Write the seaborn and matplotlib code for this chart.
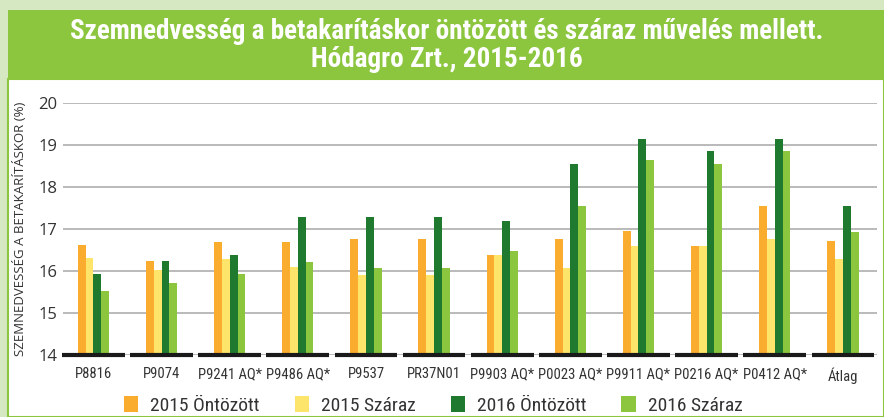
import numpy as np
import pandas as pd
import matplotlib
matplotlib.use("Agg")
import matplotlib.pyplot as plt
import seaborn as sns
from matplotlib.patches import Rectangle, Patch

hibridek = ["P8816", "P9074", "P9241 AQ*", "P9486 AQ*", "P9537", "PR37N01",
            "P9903 AQ*", "P0023 AQ*", "P9911 AQ*", "P0216 AQ*", "P0412 AQ*", "Átlag"]
sorozatok = ["2015 Öntözött", "2015 Száraz", "2016 Öntözött", "2016 Száraz"]

ontozott_2015 = [16.62, 16.24, 16.69, 16.70, 16.76, 16.77, 16.39, 16.76, 16.96, 16.59, 17.55, 16.72]
szaraz_2015 = [16.30, 16.02, 16.29, 16.09, 15.90, 15.90, 16.39, 16.08, 16.59, 16.59, 16.76, 16.28]
ontozott_2016 = [15.93, 16.24, 16.39, 17.28, 17.28, 17.28, 17.18, 18.55, 19.14, 18.86, 19.14, 17.55]
szaraz_2016 = [15.53, 15.72, 15.93, 16.21, 16.08, 16.08, 16.47, 17.55, 18.64, 18.55, 18.86, 16.92]

szinek = ["#f9ac2e", "#fde46a", "#1f7a2f", "#8cc63f"]

df = pd.DataFrame({
    "hibrid": np.tile(hibridek, 4),
    "sorozat": np.repeat(sorozatok, len(hibridek)),
    "ertek": ontozott_2015 + szaraz_2015 + ontozott_2016 + szaraz_2016,
})

sns.set_style("white")
szuk = ["Roboto Condensed", "Lato", "DejaVu Sans"]
szeles = ["Open Sans", "DejaVu Sans"]
plt.rcParams["font.family"] = szuk

fig = plt.figure(figsize=(8.84, 4.17), dpi=100)
fig.patch.set_facecolor("#d6e8c1")
# white panel and green title band
fig.add_artist(Rectangle((0.009, 0), 0.991, 0.81, transform=fig.transFigure,
                         facecolor="white", edgecolor="#8cc63f", linewidth=1.5, zorder=-2))
fig.add_artist(Rectangle((0.009, 0.808), 0.991, 0.168, transform=fig.transFigure,
                         facecolor="#8cc63f", edgecolor="none", zorder=-1))
fig.text(0.505, 0.892, "Szemnedvesség a betakarításkor öntözött és száraz művelés mellett.\nHódagro Zrt., 2015-2016",
         ha="center", va="center", color="white", fontsize=19.5, fontweight="bold", linespacing=1.05)

ax = fig.add_axes([0.071, 0.149, 0.921, 0.604])
ax.set_facecolor("none")
sns.barplot(data=df, x="hibrid", y="ertek", hue="sorozat", order=hibridek,
            hue_order=sorozatok, palette=szinek, width=0.46, saturation=1,
            edgecolor="none", ax=ax, legend=False)

ax.set_ylim(14, 20)
ax.set_xlim(-0.45, len(hibridek) - 0.5)
ax.set_yticks(range(14, 21))
ax.yaxis.grid(True, color="#b4b4b4", linewidth=1.3)
ax.set_axisbelow(True)
for s in ax.spines.values():
    s.set_visible(False)
# segmented black base line, one piece per category
ax.hlines([14] * len(hibridek), np.arange(len(hibridek)) - 0.46, np.arange(len(hibridek)) + 0.46,
          color="#1a1a1a", linewidth=3, zorder=5, clip_on=False)

ax.tick_params(axis="both", length=0, colors="#333333")
ax.tick_params(axis="y", labelsize=12, pad=4)
ax.tick_params(axis="x", labelsize=10.5, pad=9)
for t in ax.get_yticklabels():
    t.set_family(szeles)
ax.set_xlabel("")
ax.set_ylabel("SZEMNEDVESSÉG A BETAKARÍTÁSKOR (%)", fontsize=9.5, color="#333333",
              family=szeles)
ax.yaxis.set_label_coords(-0.044, 0.5)

kezelok = [Patch(facecolor=c, edgecolor="none") for c in szinek]
fig.legend(kezelok, sorozatok, loc="center", bbox_to_anchor=(0.49, 0.028), ncol=4,
           frameon=False, fontsize=14, handlelength=0.75, handleheight=0.9,
           columnspacing=1.8, handletextpad=0.6, labelcolor="#333333")

fig.savefig("out.png", dpi=100, facecolor=fig.get_facecolor())
